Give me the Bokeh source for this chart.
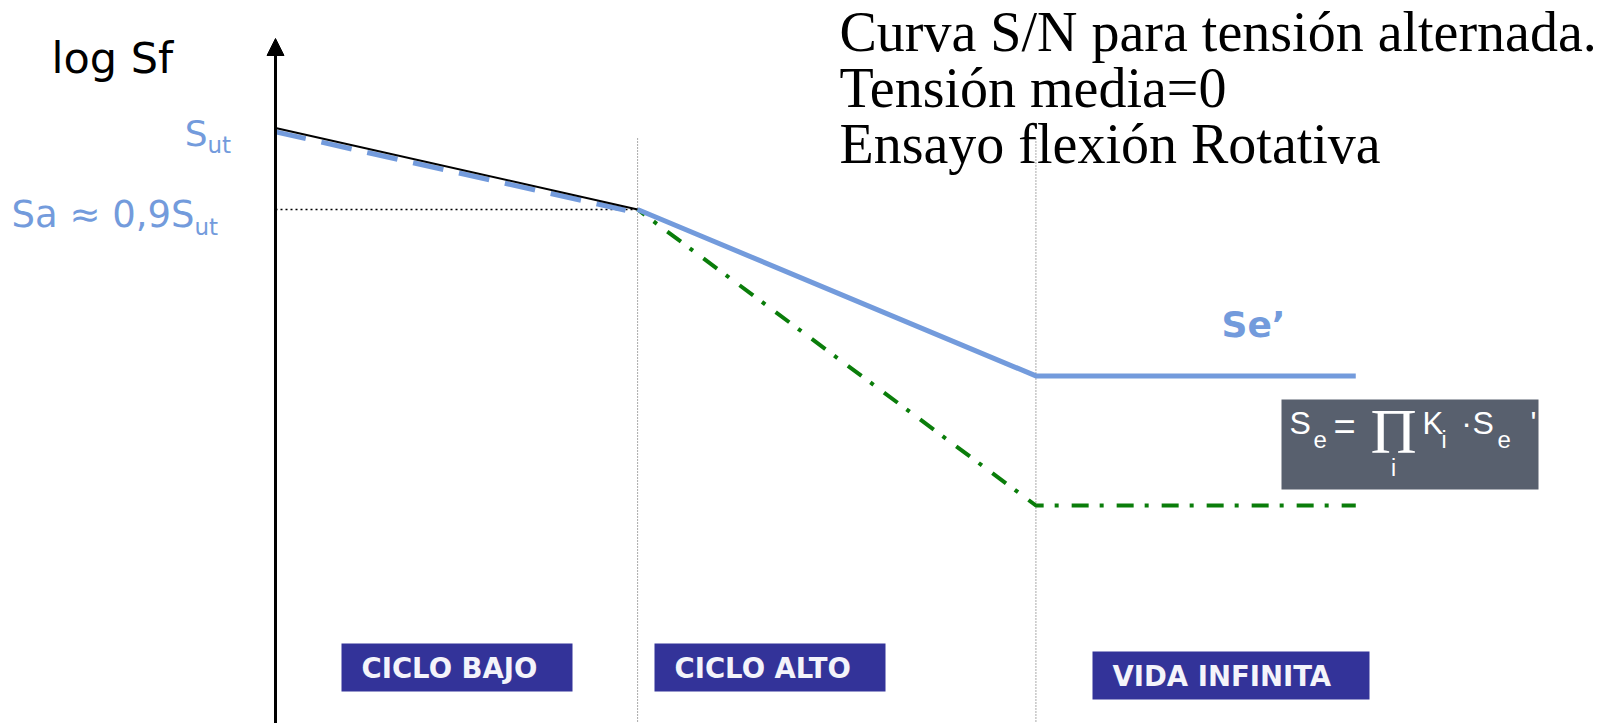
from bokeh.plotting import figure
from bokeh.models import Range1d, Label, Arrow, NormalHead
from bokeh.embed import file_html
from bokeh.resources import INLINE

# ---------------- data (schematic log N / log S units) ----------------
# ultimate strength line (black) from N=1 to the knee at 10^3 cycles
n_ult = [0.0, 3.0]
s_ult = [10.02, 9.0]
# blue dashed approximation of the low-cycle branch
n_low = [0.0, 2.9]
s_low = [9.97, 8.99]
# S-N curve for the test specimen (Se')
n_se = [3.0, 6.3, 8.95]
s_se = [9.0, 6.92, 6.92]
# S-N curve of the real part (Se = prod Ki * Se')
n_part = [3.0, 6.3, 8.95]
s_part = [9.0, 5.3, 5.3]
# knee level (Sa ~ 0.9 Sut) and regime limits
s_knee = 9.0
regime_limits = [3.0, 6.3]
regime_labels = ["CICLO BAJO", "CICLO ALTO", "VIDA INFINITA"]
title_lines = ["Curva S/N para tensión alternada.",
               "Tensión media=0",
               "Ensayo flexión Rotativa"]

# ---------------- layout helpers (reference pixel -> data) ----------------
PX0, PXU = 275.0, 120.7     # x pixel of log N = 0 and pixels per unit
PY0, PYU = 129.0, 80.0      # y pixel of log S = 10 and pixels per unit
W_PX, H_PX = 1608, 723


def X(px):
    return (px - PX0) / PXU


def Y(py):
    return 10.0 + (PY0 - py) / PYU


BLUE = "#739bdc"
GREEN = "#0a7d0a"
NAVY = "#333399"

p = figure(width=W_PX, height=H_PX, output_backend="svg", toolbar_location=None,
           x_range=Range1d(X(0), X(W_PX)), y_range=Range1d(Y(H_PX), Y(0)),
           x_axis_location=None, y_axis_location=None, min_border=0,
           outline_line_color=None, background_fill_color="white",
           border_fill_color="white")
p.xgrid.visible = False
p.ygrid.visible = False

# regime separators (dotted)
for xv in regime_limits:
    p.line([xv, xv], [Y(138), Y(760)], line_color="#555555", line_width=1,
           line_dash="1 2")

# dotted level of Sa
p.line([n_ult[0], n_ult[1]], [s_knee, s_knee], line_color="black",
       line_width=1.5, line_dash="2 3")

# curves
p.line(n_low, s_low, line_color=BLUE, line_width=5, line_dash="31 16")
p.line(n_ult, s_ult, line_color="black", line_width=2)
p.line(n_part, s_part, line_color=GREEN, line_width=4, line_dash="17 11 4 13",
       line_dash_offset=8)
p.line(n_se, s_se, line_color=BLUE, line_width=5)

# y axis with arrow
p.add_layout(Arrow(end=NormalHead(size=17, fill_color="black", line_color="black"),
                   x_start=0, y_start=Y(760), x_end=0, y_end=Y(38),
                   line_width=3, line_color="black"))

K_BASE = 0.37  # empirical correction so that the given pixel is the baseline


def lab(x, base, text, size, color="black", font="DejaVu Sans", align="left",
        style="normal"):
    p.add_layout(Label(x=X(x), y=Y(base - K_BASE * size), text=text,
                       text_font_size=f"{size}px",
                       text_color=color, text_font=font, text_align=align,
                       text_baseline="alphabetic", text_font_style=style))


# axis labels
lab(51, 73, "log Sf", 43)
lab(207, 146, "S", 36, BLUE, align="right")
lab(207, 153, "ut", 23, BLUE)
lab(194, 228, "Sa ≈ 0,9S", 37, BLUE, align="right")
lab(194, 235, "ut", 23, BLUE)

# title lines
for i, t in enumerate(title_lines):
    lab(839, 52 + 56 * i, t, 56, "black", font="Liberation Serif")

# Se' label
lab(1253, 337, "Se’", 36, BLUE, align="center", style="bold")

# formula box
p.quad(left=[X(1281)], right=[X(1538)], top=[Y(399)], bottom=[Y(489)],
       fill_color="#58606e", line_color=None)
F = "Liberation Sans"
W = "white"
lab(1289, 434, "S", 32, W, F)
lab(1313, 448, "e", 24, W, F)
lab(1333, 441, "=", 38, W, F)
lab(1393, 455, "Π", 64, W, "Liberation Serif", align="center")
lab(1393, 476, "i", 23, W, F, align="center")
lab(1422, 434, "K", 31, W, F)
lab(1441, 448, "i", 23, W, F)
lab(1466, 434, "·", 32, W, F, align="center")
lab(1472, 434, "S", 32, W, F)
lab(1497, 448, "e", 24, W, F)
lab(1530, 434, "'", 31, W, F)

# regime boxes
boxes = [(341, 572, 643, 691), (654, 885, 643, 691), (1092, 1369, 651, 699)]
for (l, r, t, b), name in zip(boxes, regime_labels):
    p.quad(left=[X(l)], right=[X(r)], top=[Y(t)], bottom=[Y(b)],
           fill_color=NAVY, line_color=None)
    lab(l + 20, b - 13, name, 27.5, "#f4f4fa", style="bold")

open("out.html", "w").write(file_html(p, INLINE))
